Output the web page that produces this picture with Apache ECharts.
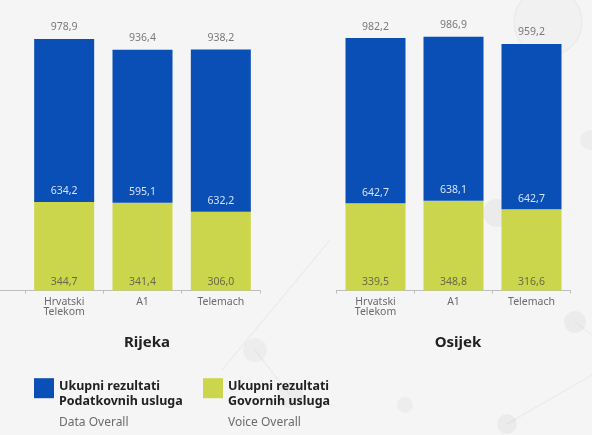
<!DOCTYPE html>
<html><head><meta charset="utf-8">
<script src="https://cdn.jsdelivr.net/npm/echarts@6/dist/echarts.min.js"></script>
<style>html,body{margin:0;padding:0;background:#f5f5f5}#c{width:592px;height:435px}</style>
</head><body><div id="c"></div>
<script>
const operators = ['Hrvatski\nTelekom', 'A1', 'Telemach'];
const cities = ['Rijeka', 'Osijek'];
const rijekaVoice = [344.7, 341.4, 306.0];
const rijekaData = [634.2, 595.1, 632.2];
const rijekaTotal = [978.9, 936.4, 938.2];
const osijekVoice = [339.5, 348.8, 316.6];
const osijekData = [642.7, 638.1, 642.7];
const osijekTotal = [982.2, 986.9, 959.2];
const seriesNames = ['Ukupni rezultati Podatkovnih usluga', 'Ukupni rezultati Govornih usluga'];
const legendSub = ['Data Overall', 'Voice Overall'];

const BLUE = '#0a4fb5', GREEN = '#cbd64c';
const FONT = 'Noto Sans';
const fmt = v => (typeof v === 'object' ? v.value : v).toFixed(1).replace('.', ',');

const chart = echarts.init(document.getElementById('c'));
const grids = [
  {left: 25, width: 235, top: 33.5, bottom: 144.5},
  {left: 336.5, width: 234, top: 33.5, bottom: 144.5}
];
const xAxes = grids.map((g, i) => ({
  type: 'category', gridIndex: i, data: operators,
  axisLine: {lineStyle: {color: '#bdbdbd'}},
  axisTick: {show: true, length: 3, lineStyle: {color: '#bdbdbd'}},
  axisLabel: {color: '#6b6b6b', fontSize: 10.5, fontFamily: FONT, lineHeight: 10.5, margin: 6}
}));
const yAxes = grids.map((g, i) => ({type: 'value', gridIndex: i, min: 0, max: 1000, show: false, splitLine: {show: false}}));

function citySeries(i, voice, data, total) {
  return [
    {name: seriesNames[1], type: 'bar', stack: 's' + i, xAxisIndex: i, yAxisIndex: i, data: voice, barWidth: 60,
     itemStyle: {color: GREEN}, silent: true,
     label: {show: true, position: 'insideBottom', distance: 3, formatter: p => fmt(p.value), color: '#6a6a4a', fontSize: 10.5, fontFamily: FONT}},
    {name: seriesNames[0], type: 'bar', stack: 's' + i, xAxisIndex: i, yAxisIndex: i, data: data, barWidth: 60,
     itemStyle: {color: BLUE}, silent: true,
     label: {show: true, position: 'insideBottom', distance: 5, formatter: p => fmt(p.value), color: '#d6e2f7', fontSize: 10.5, fontFamily: FONT}},
    {type: 'scatter', xAxisIndex: i, yAxisIndex: i, data: total, symbolSize: 0, silent: true,
     label: {show: true, position: 'top', distance: 6, formatter: p => fmt(p.value), color: '#5a5a5a', fontSize: 10.5, fontFamily: FONT}}
  ];
}

function legendFor(idx, left) {
  const parts = seriesNames[idx].split(' ');
  const l1 = parts.slice(0, 2).join(' '), l2 = parts.slice(2).join(' ');
  return {
    data: [seriesNames[idx]], left: left, top: 359, padding: 0, orient: 'vertical',
    icon: 'rect', itemWidth: 20, itemHeight: 20, itemGap: 10, selectedMode: false,
    formatter: () => '{s| }\n{a|' + l1 + '}\n{a|' + l2 + '}\n{c|' + legendSub[idx] + '}',
    textStyle: {
      padding: [0, 0, 0, 0],
      rich: {
        s: {lineHeight: 38.4, fontSize: 2},
        a: {fontSize: 12.5, fontWeight: 'bold', color: '#222', lineHeight: 15, fontFamily: FONT},
        c: {fontSize: 12, color: '#6b6b6b', lineHeight: 26.4, fontFamily: FONT}
      }
    }
  };
}

const deco = [
  {type: 'circle', shape: {cx: 548, cy: 22, r: 34}, style: {fill: 'rgba(0,0,0,0.015)', stroke: 'rgba(0,0,0,0.035)', lineWidth: 1.5}, z: -10},
  {type: 'circle', shape: {cx: 497, cy: 213, r: 14}, style: {fill: 'rgba(0,0,0,0.04)'}, z: -10},
  {type: 'circle', shape: {cx: 575, cy: 322, r: 11}, style: {fill: 'rgba(0,0,0,0.04)'}, z: -10},
  {type: 'circle', shape: {cx: 507, cy: 424, r: 10}, style: {fill: 'rgba(0,0,0,0.04)'}, z: -10},
  {type: 'circle', shape: {cx: 405, cy: 405, r: 8}, style: {fill: 'rgba(0,0,0,0.03)'}, z: -10},
  {type: 'circle', shape: {cx: 290, cy: 395, r: 13}, style: {fill: 'rgba(0,0,0,0.03)'}, z: -10},
  {type: 'circle', shape: {cx: 255, cy: 350, r: 12}, style: {fill: 'rgba(0,0,0,0.03)'}, z: -10},
  {type: 'circle', shape: {cx: 590, cy: 140, r: 10}, style: {fill: 'rgba(0,0,0,0.03)'}, z: -10},
  {type: 'line', shape: {x1: 507, y1: 424, x2: 592, y2: 375}, style: {stroke: 'rgba(0,0,0,0.035)', lineWidth: 1.5}, z: -10},
  {type: 'line', shape: {x1: 575, y1: 322, x2: 592, y2: 335}, style: {stroke: 'rgba(0,0,0,0.035)', lineWidth: 1.5}, z: -10},
  {type: 'line', shape: {x1: 222, y1: 370, x2: 330, y2: 240}, style: {stroke: 'rgba(0,0,0,0.035)', lineWidth: 1.5}, z: -10},
  {type: 'line', shape: {x1: 255, y1: 350, x2: 290, y2: 395}, style: {stroke: 'rgba(0,0,0,0.035)', lineWidth: 1.5}, z: -10},
  {type: 'line', shape: {x1: 0, y1: 290.5, x2: 25, y2: 290.5}, style: {stroke: '#bdbdbd', lineWidth: 1}, z: 1}
];

chart.setOption({
  backgroundColor: '#f5f5f5',
  animation: false,
  grid: grids,
  xAxis: xAxes,
  yAxis: yAxes,
  title: cities.map((c, i) => ({
    text: c, left: i === 0 ? 142 : 453, top: 330, textAlign: 'center',
    textStyle: {fontSize: 15, fontWeight: 'bold', color: '#222', fontFamily: FONT}
  })),
  legend: [legendFor(0, 34), legendFor(1, 203)],
  graphic: deco,
  series: [].concat(
    citySeries(0, rijekaVoice, rijekaData, rijekaTotal),
    citySeries(1, osijekVoice, osijekData, osijekTotal)
  )
});
</script></body></html>
